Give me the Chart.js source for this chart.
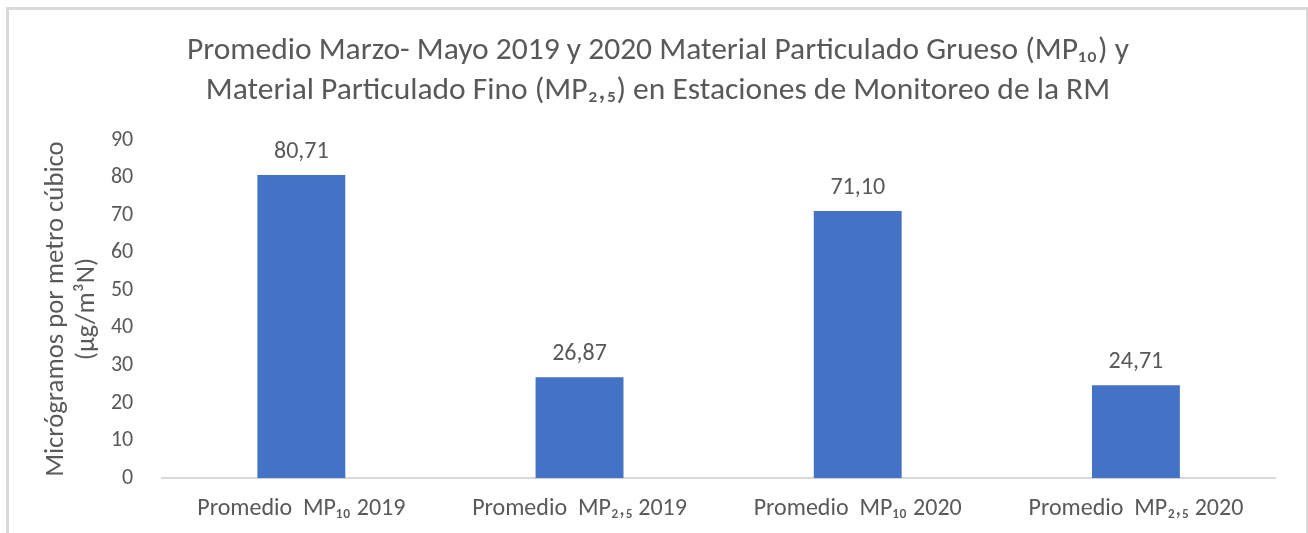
<!DOCTYPE html>
<html>
<head>
<meta charset="utf-8">
<script src="https://cdn.jsdelivr.net/npm/chart.js@4"></script>
<style>
  html, body { margin: 0; padding: 0; background: #fff; overflow: hidden; }
  #box {
    position: absolute; left: 6px; top: 7px;
    width: 1297px; height: 530px;
    border: 3px solid #d9d9d9; border-bottom: none;
  }
</style>
</head>
<body>
<div id="box"><canvas id="my-chart"></canvas></div>
<script>
const categories = ['Promedio  MP₁₀ 2019', 'Promedio  MP₂,₅ 2019', 'Promedio  MP₁₀ 2020', 'Promedio  MP₂,₅ 2020'];
const promedios = [80.71, 26.87, 71.10, 24.71];
const titleLines = [
  'Promedio Marzo- Mayo 2019 y 2020 Material Particulado Grueso (MP₁₀) y',
  'Material Particulado Fino (MP₂,₅) en Estaciones de Monitoreo de la RM'
];
const yTitleLines = ['Micrógramos por metro cúbico', '(µg/m³N)'];

const fontFam = 'Carlito, Lato, "Noto Sans", sans-serif';
const grey = '#595959';

// labels above each bar, like excel
const valueLabels = {
  id: 'valueLabels',
  afterDatasetsDraw(chart) {
    const ctx = chart.ctx;
    const meta = chart.getDatasetMeta(0);
    ctx.save();
    ctx.font = '24px ' + fontFam;
    ctx.fillStyle = grey;
    ctx.textAlign = 'center';
    ctx.textBaseline = 'alphabetic';
    meta.data.forEach((bar, i) => {
      ctx.fillText(promedios[i].toFixed(2).replace('.', ','), bar.x, bar.y - 17);
    });
    ctx.restore();
  }
};

const ctx = document.getElementById('my-chart').getContext('2d');
const chart = new Chart(ctx, {
  type: 'bar',
  data: {
    labels: categories,
    datasets: [{
      data: promedios,
      backgroundColor: '#4472c4',
      categoryPercentage: 1,
      barPercentage: 0.316
    }]
  },
  options: {
    responsive: true,
    maintainAspectRatio: false,
    animation: false,
    layout: { padding: { left: 32, right: 31, bottom: 9, top: 0 } },
    plugins: {
      legend: { display: false },
      tooltip: { enabled: false },
      title: {
        display: true,
        text: titleLines,
        color: grey,
        font: { family: fontFam, size: 31.5, weight: 'normal', lineHeight: 1.27 },
        padding: { top: 21, bottom: 29 }
      }
    },
    scales: {
      x: {
        grid: { display: false },
        border: { color: '#d9d9d9', width: 2 },
        ticks: { color: grey, font: { family: fontFam, size: 24 }, padding: 8 }
      },
      y: {
        min: 0, max: 90,
        grid: { display: false },
        border: { display: false },
        ticks: { stepSize: 10, color: grey, font: { family: fontFam, size: 22 }, padding: 21 },
        title: {
          display: true,
          text: yTitleLines,
          color: grey,
          font: { family: fontFam, size: 26.7, lineHeight: 1.16 },
          padding: { top: 0, bottom: -13 }
        }
      }
    }
  },
  plugins: [valueLabels]
});
</script>
</body>
</html>
